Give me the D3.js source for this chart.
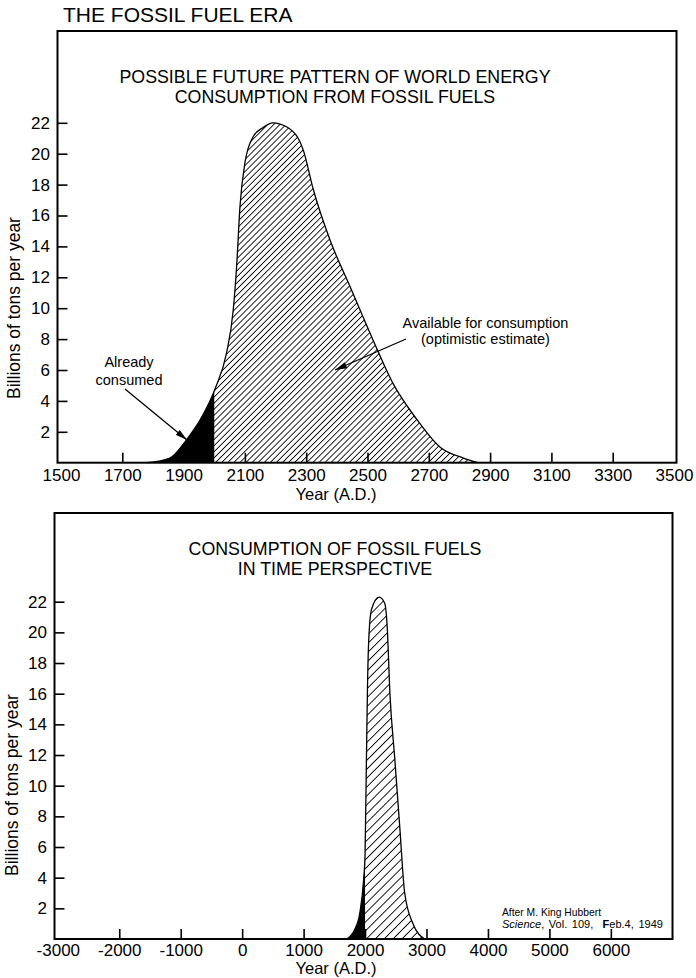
<!DOCTYPE html>
<html>
<head>
<meta charset="utf-8">
<script src="https://cdn.jsdelivr.net/npm/d3@7"></script>
<style>
  body { margin: 0; background: #fff; }
  text { font-family: "Liberation Sans", Arial, sans-serif; fill: #000; }
</style>
</head>
<body>
<script>
const width = 696;
const height = 978;

// upper panel: possible future pattern (billions of tons per year)
const topYears  = [1780, 1855, 1910, 1955, 2005, 2040, 2062, 2073, 2084, 2100, 2127, 2160, 2190, 2240, 2291, 2323, 2378, 2443, 2519, 2584, 2661, 2737, 2813, 2860];
const topValues = [0, 0.3, 1.5, 2.8, 4.9, 7.1, 9.9, 12.7, 16.6, 19.4, 21.1, 21.7, 22.0, 21.7, 20.2, 17.7, 14.4, 11.4, 7.9, 5.1, 2.8, 1.0, 0.3, 0];
const topTickYears = [1500, 1700, 1900, 2100, 2300, 2500, 2700, 2900, 3100, 3300, 3500];

// lower panel: same curve in time perspective
const bottomYears  = [1700, 1830, 1915, 1975, 2000, 2020, 2040, 2060, 2105, 2230, 2320, 2360, 2405, 2485, 2565, 2645, 2780, 2970];
const bottomValues = [0, 0.6, 1.7, 3.8, 5.5, 11, 16.5, 19.5, 21.5, 22.3, 21.9, 20.4, 16, 11.7, 7.3, 3, 1, 0];
const bottomTickYears = [-3000, -2000, -1000, 0, 1000, 2000, 3000, 4000, 5000, 6000];

const valueTicks = [2, 4, 6, 8, 10, 12, 14, 16, 18, 20, 22];
const consumedUntil = 2000;

const svg = d3.select("body")
  .append("svg")
  .attr("width", width)
  .attr("height", height)
  .style("background", "#fff");

const defs = svg.append("defs");

function hatch(id, gap) {
  const p = defs.append("pattern")
    .attr("id", id)
    .attr("patternUnits", "userSpaceOnUse")
    .attr("width", gap)
    .attr("height", gap)
    .attr("patternTransform", "rotate(45)");
  p.append("line")
    .attr("x1", gap / 2).attr("y1", 0)
    .attr("x2", gap / 2).attr("y2", gap)
    .attr("stroke", "#000")
    .attr("stroke-width", 0.9);
}
hatch("hatchTop", 4.3);
hatch("hatchBottom", 6.3);

defs.append("marker")
  .attr("id", "arrow")
  .attr("viewBox", "0 0 12 8")
  .attr("refX", 12)
  .attr("refY", 4)
  .attr("markerWidth", 12)
  .attr("markerHeight", 8)
  .attr("markerUnits", "userSpaceOnUse")
  .attr("orient", "auto")
  .append("path")
  .attr("d", "M0,0.8 L12,4 L0,7.2 Z")
  .attr("fill", "#000");

svg.append("text")
  .attr("x", 63)
  .attr("y", 21.5)
  .style("font-size", "21px")
  .text("THE FOSSIL FUEL ERA");

function drawPanel(cfg) {
  const x = d3.scaleLinear().domain(cfg.xDomain).range(cfg.xRange);
  const y = d3.scaleLinear().domain([0, 22]).range([cfg.bottom, cfg.y22]);
  const pts = d3.zip(cfg.years, cfg.values);

  const area = d3.area()
    .x(d => x(d[0]))
    .y0(y(0))
    .y1(d => y(d[1]))
    .curve(d3.curveMonotoneX);
  const line = d3.line()
    .x(d => x(d[0]))
    .y(d => y(d[1]))
    .curve(d3.curveMonotoneX);

  const g = svg.append("g");

  g.append("path")
    .attr("d", area(pts))
    .attr("fill", "url(#" + cfg.hatch + ")");

  defs.append("clipPath")
    .attr("id", cfg.id + "Clip")
    .append("rect")
    .attr("x", cfg.left)
    .attr("y", cfg.top)
    .attr("width", x(consumedUntil) - cfg.left)
    .attr("height", cfg.bottom - cfg.top);

  g.append("path")
    .attr("d", area(pts))
    .attr("fill", "#000")
    .attr("clip-path", "url(#" + cfg.id + "Clip)");

  g.append("path")
    .attr("d", line(pts))
    .attr("fill", "none")
    .attr("stroke", "#000")
    .attr("stroke-width", 1.3);

  // frame
  g.append("rect")
    .attr("x", cfg.left)
    .attr("y", cfg.top)
    .attr("width", cfg.right - cfg.left)
    .attr("height", cfg.bottom - cfg.top)
    .attr("fill", "none")
    .attr("stroke", "#000")
    .attr("stroke-width", 2);

  const yAxis = g.append("g")
    .attr("transform", "translate(" + cfg.left + ",0)")
    .call(d3.axisLeft(y).tickValues(valueTicks).tickSizeInner(-10).tickSizeOuter(0).tickPadding(7.5));
  yAxis.select(".domain").remove();
  yAxis.selectAll("line").attr("stroke", "#000").attr("stroke-width", 1.6);
  yAxis.selectAll("text")
    .style("font-family", "'Liberation Sans', Arial, sans-serif")
    .style("font-size", "17px");

  const xAxis = g.append("g")
    .attr("transform", "translate(0," + cfg.bottom + ")")
    .call(d3.axisBottom(x).tickValues(cfg.ticks).tickSizeInner(-10).tickSizeOuter(0).tickPadding(cfg.tickPad).tickFormat(d => String(d)));
  xAxis.select(".domain").remove();
  xAxis.selectAll(".tick")
    .filter(d => d === cfg.xDomain[0] || d === cfg.xDomain[1])
    .select("line").remove();
  xAxis.selectAll("line").attr("stroke", "#000").attr("stroke-width", 1.6);
  xAxis.selectAll("text")
    .style("font-family", "'Liberation Sans', Arial, sans-serif")
    .style("font-size", "17px");

  g.append("text")
    .attr("x", 336)
    .attr("y", cfg.bottom + cfg.yearGap)
    .attr("text-anchor", "middle")
    .style("font-size", "16.5px")
    .text("Year (A.D.)");

  g.append("text")
    .attr("transform", "translate(" + cfg.yTitleX + "," + cfg.yTitleY + ") rotate(-90)")
    .attr("text-anchor", "middle")
    .style("font-size", "17.5px")
    .text("Billions of tons per year");

  g.selectAll(".subtitle")
    .data(cfg.subtitle)
    .enter()
    .append("text")
    .attr("class", "subtitle")
    .attr("x", 335)
    .attr("y", (d, i) => cfg.subtitleY + i * 20)
    .attr("text-anchor", "middle")
    .style("font-size", "17.8px")
    .text(d => d);

  return { x, y };
}

drawPanel({
  id: "top",
  years: topYears,
  values: topValues,
  ticks: topTickYears,
  xDomain: [1500, 3500],
  xRange: [61, 674],
  left: 57.5, right: 676.5, top: 31, bottom: 462.7, y22: 122.8,
  tickPad: 6, yearGap: 37.5,
  hatch: "hatchTop",
  yTitleX: 20, yTitleY: 308,
  subtitle: ["POSSIBLE FUTURE PATTERN OF WORLD ENERGY", "CONSUMPTION FROM FOSSIL FUELS"],
  subtitleY: 83
});

drawPanel({
  id: "bottom",
  years: bottomYears,
  values: bottomValues,
  ticks: bottomTickYears,
  xDomain: [-3000, 7000],
  xRange: [57.8, 672.3],
  left: 54.5, right: 672.5, top: 513, bottom: 939, y22: 601.7,
  tickPad: 5, yearGap: 35.2,
  hatch: "hatchBottom",
  yTitleX: 18, yTitleY: 785,
  subtitle: ["CONSUMPTION OF FOSSIL FUELS", "IN TIME PERSPECTIVE"],
  subtitleY: 555
});

// annotations on the upper panel
const notes = svg.append("g").style("font-size", "14.5px");
notes.append("text").attr("x", 129).attr("y", 367).attr("text-anchor", "middle").text("Already");
notes.append("text").attr("x", 129).attr("y", 385).attr("text-anchor", "middle").text("consumed");
notes.append("text").attr("x", 485.5).attr("y", 328).attr("text-anchor", "middle").text("Available for consumption");
notes.append("text").attr("x", 485.5).attr("y", 344).attr("text-anchor", "middle").text("(optimistic estimate)");

notes.append("line")
  .attr("x1", 125).attr("y1", 389)
  .attr("x2", 187).attr("y2", 440)
  .attr("stroke", "#000").attr("stroke-width", 1.3)
  .attr("marker-end", "url(#arrow)");
notes.append("line")
  .attr("x1", 406).attr("y1", 339)
  .attr("x2", 335).attr("y2", 370)
  .attr("stroke", "#000").attr("stroke-width", 1.3)
  .attr("marker-end", "url(#arrow)");

// source note on the lower panel
const src = svg.append("g");
src.append("text").attr("x", 502).attr("y", 916).style("font-size", "10.3px").text("After M. King Hubbert");
const srcLine = src.append("text")
  .attr("x", 502).attr("y", 928)
  .attr("xml:space", "preserve")
  .style("font-size", "11px")
  .style("word-spacing", "1.6px");
srcLine.append("tspan").style("font-style", "italic").text("Science");
srcLine.append("tspan").text(", Vol. 109,  ");
srcLine.append("tspan").style("font-weight", "bold").text("F");
srcLine.append("tspan").text("eb.4, 1949");
</script>
</body>
</html>
